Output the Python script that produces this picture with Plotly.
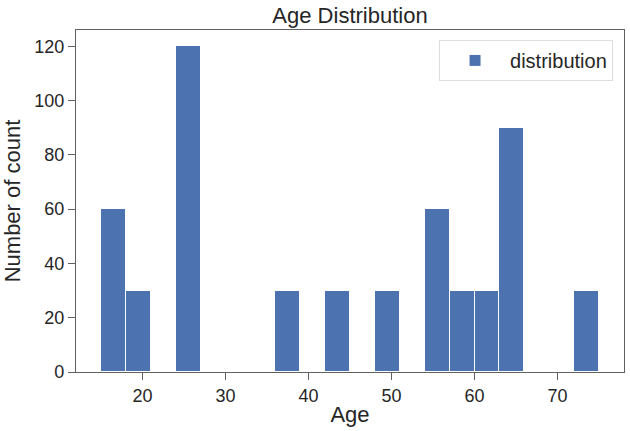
import plotly.graph_objects as go

bin_left = [15, 18, 24, 36, 42, 48, 54, 57, 60, 63, 72]
counts = [60, 30, 120, 30, 30, 30, 60, 30, 30, 90, 30]
bin_width = 3
x_ticks = [20, 30, 40, 50, 60, 70]
y_ticks = [0, 20, 40, 60, 80, 100, 120]

centers = [b + bin_width / 2 for b in bin_left]

fig = go.Figure()
fig.add_trace(go.Bar(
    x=centers, y=counts, width=[bin_width] * len(centers),
    name="distribution", marker=dict(color="#4c72b0", line=dict(color="white", width=1)),
    showlegend=True,
))

axis_common = dict(
    showline=True, linecolor="#606060", linewidth=1.3, mirror=True,
    ticks="outside", ticklen=7, tickcolor="#606060", tickwidth=1.3,
    showgrid=False, zeroline=False, automargin=False,
    tickfont=dict(size=18, color="#262626"),
)

fig.update_layout(
    width=630, height=431,
    margin=dict(l=76, r=6, t=30, b=59),
    paper_bgcolor="white", plot_bgcolor="white",
    font=dict(family="Liberation Sans, Arial, sans-serif", color="#262626"),
    title=dict(text="Age Distribution", x=0.5, xref="paper", xanchor="center",
               y=0.964, yanchor="middle",
               font=dict(size=22, color="#262626")),
    xaxis=dict(range=[12, 78], tickvals=x_ticks,
               title=dict(text="Age", font=dict(size=22), standoff=1), **axis_common),
    yaxis=dict(range=[0, 126], tickvals=y_ticks,
               title=dict(text="Number of count", font=dict(size=22), standoff=10), **axis_common),
    legend=dict(x=0.98, y=0.971, xanchor="right", yanchor="top",
                bordercolor="#dddddd", borderwidth=1, bgcolor="white", itemwidth=60,
                font=dict(size=20, color="#262626")),
    bargap=0,
)

fig.write_html("out.html", config={"displayModeBar": False},
               post_script="document.body.style.margin='0';")
